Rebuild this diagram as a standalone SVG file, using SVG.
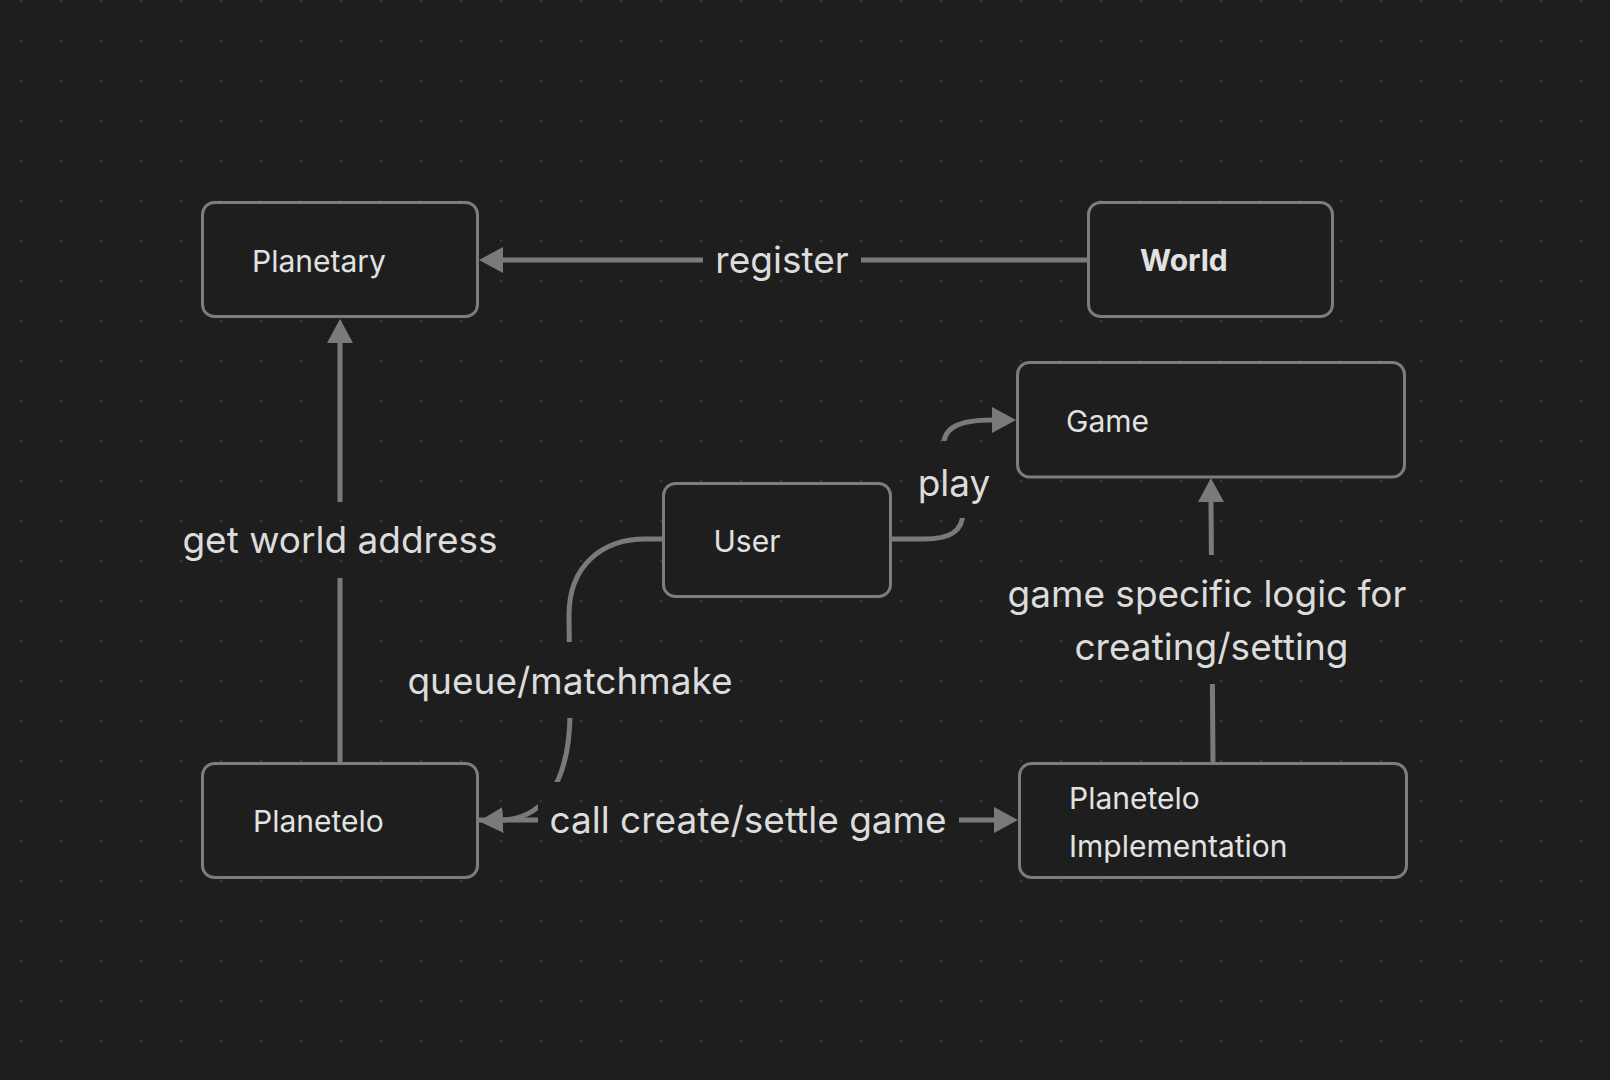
<svg xmlns="http://www.w3.org/2000/svg" width="1610" height="1080" viewBox="0 0 1610 1080">
  <style>
    .node rect { fill: #1e1e1e; stroke: #7d7d7d; stroke-width: 3; }
    .ntext { font-family: Inter, "Noto Sans", "Liberation Sans", sans-serif; font-size: 30px; fill: #e2e2e2; }
    .bold { font-weight: 700; }
    .edge { fill: none; stroke: #7a7a7a; stroke-width: 5; }
    .label { font-family: Inter, "Noto Sans", "Liberation Sans", sans-serif; font-size: 37px; fill: #dcdcdc; text-anchor: middle; }
  </style>
  <defs>
    <pattern id="dots" x="1" y="-19" width="40" height="40" patternUnits="userSpaceOnUse">
      <circle cx="20" cy="20" r="1.3" fill="#383838"/>
    </pattern>
    <marker id="arrow" viewBox="0 0 24 26" markerWidth="24" markerHeight="26" refX="0" refY="13" orient="auto" markerUnits="userSpaceOnUse">
      <path d="M0,0 L24,13 L0,26 Z" fill="#7a7a7a"/>
    </marker>
    <mask id="labelGaps" maskUnits="userSpaceOnUse" x="0" y="0" width="1610" height="1080">
      <rect x="0" y="0" width="1610" height="1080" fill="#fff"/>
      <rect x="703" y="222" width="158" height="76" fill="#000"/>
      <rect x="170" y="502" width="340" height="76" fill="#000"/>
      <rect x="905" y="441" width="98" height="77" fill="#000"/>
      <rect x="395" y="642" width="350" height="76" fill="#000"/>
      <rect x="538" y="782" width="421" height="76" fill="#000"/>
      <rect x="997" y="555" width="420" height="129" fill="#000"/>
    </mask>
  </defs>

  <rect x="0" y="0" width="1610" height="1080" fill="#1e1e1e"/>
  <rect x="0" y="0" width="1610" height="1080" fill="url(#dots)"/>

  <g id="connectors" mask="url(#labelGaps)">
    <path id="e-register" class="edge" d="M1087,260 L503,260" marker-end="url(#arrow)"/>
    <path id="e-getworld" class="edge" d="M340,762 L340,343" marker-end="url(#arrow)"/>
    <path id="e-play" class="edge" d="M892,539 L924,539 C949,539 963,532 963,512 C963,482 943.5,470 943.5,446 C943.5,428 958,420 992,420" marker-end="url(#arrow)"/>
    <path id="e-queue" class="edge" d="M662,539 L645,539 C603,539 569,565 569,615 L570,712 C570,780 545,818 503,820" marker-end="url(#arrow)"/>
    <path id="e-call" class="edge" d="M479,820 L994,820" marker-end="url(#arrow)"/>
    <path id="e-logic" class="edge" d="M1213,762 L1211,502" marker-end="url(#arrow)"/>
  </g>

  <g id="edge-labels">
    <text class="label" x="782" y="273">register</text>
    <text class="label" x="340" y="553">get world address</text>
    <text class="label" x="954" y="495.5">play</text>
    <text class="label" x="570" y="693.5">queue/matchmake</text>
    <text class="label" x="748" y="833">call create/settle game</text>
    <text class="label" x="1207" y="606.5">game specific logic for</text>
    <text class="label" x="1211.5" y="659.5">creating/setting</text>
  </g>

  <g id="node-planetary" class="node">
    <rect x="202.5" y="202.5" width="275" height="114" rx="12"/>
    <text class="ntext" x="252" y="271.5">Planetary</text>
  </g>
  <g id="node-world" class="node">
    <rect x="1088.5" y="202.5" width="244" height="114" rx="12"/>
    <text class="ntext bold" x="1140" y="271">World</text>
  </g>
  <g id="node-game" class="node">
    <rect x="1017.5" y="362.5" width="387" height="114.5" rx="12"/>
    <text class="ntext" x="1066" y="431.5">Game</text>
  </g>
  <g id="node-user" class="node">
    <rect x="663.5" y="483.5" width="227" height="113" rx="12"/>
    <text class="ntext" x="713.5" y="551.5">User</text>
  </g>
  <g id="node-planetelo" class="node">
    <rect x="202.5" y="763.5" width="275" height="114" rx="12"/>
    <text class="ntext" x="253" y="831.5">Planetelo</text>
  </g>
  <g id="node-planetelo-impl" class="node">
    <rect x="1019.5" y="763.5" width="387" height="114" rx="12"/>
    <text class="ntext" x="1069" y="808.5">Planetelo</text>
    <text class="ntext" x="1069" y="856.5">Implementation</text>
  </g>
</svg>
